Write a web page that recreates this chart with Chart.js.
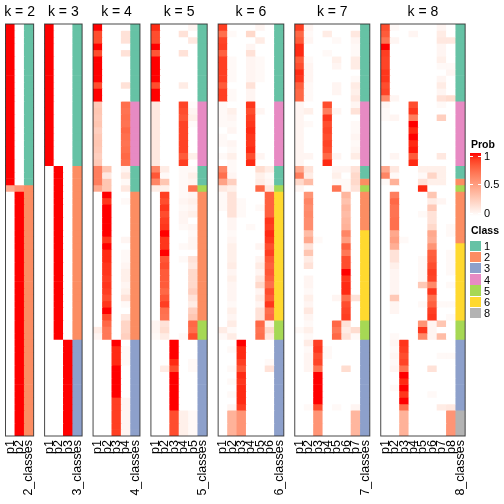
<!DOCTYPE html>
<html>
<head>
<meta charset="utf-8">
<script src="https://cdn.jsdelivr.net/npm/chart.js@4.4.1/dist/chart.umd.min.js"></script>
<style>
  body { margin: 0; width: 504px; height: 504px; overflow: hidden; position: relative; background: #fff;
         font-family: "Liberation Sans", Arial, sans-serif; color: #000; }
  canvas { position: absolute; left: 0; top: 0; }
  .title { position: absolute; top: 3px; font-size: 14px; white-space: nowrap; transform: translateX(-50%); }
  .lab { position: absolute; top: 440px; writing-mode: vertical-rl; transform: rotate(180deg);
         font-size: 12.5px; line-height: 13px; white-space: nowrap; }
  .lg-title { position: absolute; left: 471px; font-size: 10.5px; font-weight: bold; }
  .lg-text { position: absolute; left: 484px; font-size: 11px; line-height: 12px; }
  .swatch { position: absolute; left: 470px; width: 11px; }
</style>
</head>
<body>
<script>
/* ============================================================
   Données : probabilités (en %) par échantillon, pour k = 2..8
   64 lignes (échantillons), colonnes p1..pk
   ============================================================ */
const K_VALUES = [2, 3, 4, 5, 6, 7, 8];

const PROB_K2 = [
  [100,0],[100,0],[100,0],[100,0],[100,0],[100,0],[100,0],[100,0],[100,0],[100,0],[100,0],[100,0],
  [100,0],[100,0],[100,0],[100,0],[100,0],[100,0],[100,0],[100,0],[100,0],[100,0],
  [100,0],[100,0],[100,0],[45,55],
  [0,100],[0,100],[0,100],[0,100],[0,100],[0,100],[0,100],[0,100],[0,100],[0,100],[0,100],[0,100],
  [0,100],[0,100],[0,100],[0,100],[0,100],[0,100],[0,100],[0,100],[0,100],[0,100],[0,100],
  [0,100],[0,100],[0,100],[0,100],[0,100],[0,100],[0,100],[0,100],[0,100],[0,100],[0,100],[0,100],
  [0,100],[0,100],[0,100]
];
const CLASS_K2 = [
  1,1,1,1,1,1,1,1,1,1,1,1, 1,1,1,1,1,1,1,1,1,1, 1,1,1,2,
  2,2,2,2,2,2,2,2,2,2,2,2,2,2,2,2,2,2,2,2,2,2,2,
  2,2,2,2,2,2,2,2,2,2,2,2,2,2,2
];

const PROB_K3 = [
  [100,0,0],[100,0,0],[100,0,0],[100,0,0],[100,0,0],[100,0,0],[100,0,0],[100,0,0],[100,0,0],[100,0,0],[100,0,0],[100,0,0],
  [100,0,0],[100,0,0],[100,0,0],[100,0,0],[100,0,0],[100,0,0],[100,0,0],[100,0,0],[100,0,0],[100,0,0],
  [0,100,0],[0,100,0],[0,100,0],[0,100,0],
  [0,100,0],[0,100,0],[0,100,0],[0,100,0],[0,100,0],[0,100,0],[0,100,0],[0,100,0],[0,100,0],[0,100,0],[0,100,0],[0,100,0],
  [0,100,0],[0,100,0],[0,100,0],[0,100,0],[0,100,0],[0,100,0],[0,100,0],[0,100,0],[0,100,0],[0,100,0],[0,100,0],
  [0,0,100],[0,0,100],[0,0,100],[0,0,100],[0,0,100],[0,0,100],[0,0,100],[0,0,100],[0,0,100],[0,0,100],[0,0,100],
  [0,0,100],[0,0,100],[0,0,100],[0,0,100]
];
const CLASS_K3 = [
  1,1,1,1,1,1,1,1,1,1,1,1, 1,1,1,1,1,1,1,1,1,1, 2,2,2,2,
  2,2,2,2,2,2,2,2,2,2,2,2,2,2,2,2,2,2,2,2,2,2,2,
  3,3,3,3,3,3,3,3,3,3,3,3,3,3,3
];

const PROB_K4 = [
  [100,0,0,0],[85,0,0,15],[85,0,0,15],[100,0,0,0],[85,0,0,15],[100,0,0,0],
  [100,0,0,0],[100,0,0,0],[100,0,0,0],[85,0,0,15],[100,0,0,0],[100,0,0,0],
  [28,0,0,72],[30,0,0,70],[28,0,0,72],[30,0,0,70],[25,0,0,75],
  [28,0,0,72],[30,0,0,70],[28,0,0,72],[25,0,0,75],[28,0,0,72],
  [65,30,0,5],[65,12,0,12],[65,30,0,3],[45,30,0,12],
  [0,100,0,0],[0,92,0,3],[0,100,0,0],[0,100,0,0],[0,100,0,0],[0,100,0,0],[0,100,0,0],[0,92,0,5],
  [0,100,0,0],[0,95,0,3],[0,95,0,3],[0,92,0,5],[0,92,0,8],[0,90,0,8],[0,92,0,5],[0,90,0,8],
  [0,85,0,15],[0,92,0,3],[0,100,0,0],[0,85,0,12],[0,75,0,22],[10,68,0,22],[5,68,0,25],
  [0,0,100,0],[0,0,95,3],[0,0,95,3],[0,0,95,3],[0,0,100,0],[0,0,100,0],[0,0,100,0],[0,0,100,0],
  [0,0,100,0],[0,0,90,5],[0,0,90,5],[0,0,90,5],[0,0,90,5],[0,0,90,5],[0,0,90,5]
];
const CLASS_K4 = [
  1,1,1,1,1,1,1,1,1,1,1,1, 4,4,4,4,4,4,4,4,4,4, 1,1,1,1,
  2,2,2,2,2,2,2,2,2,2,2,2,2,2,2,2,2,2,2,2,2,2,2,
  3,3,3,3,3,3,3,3,3,3,3,3,3,3,3
];

const PROB_K5 = [
  [95,0,0,0,5],[85,0,0,15,0],[85,0,0,0,12],[100,0,0,0,0],[82,0,0,15,0],[100,0,0,0,0],
  [100,0,0,0,0],[100,0,0,0,0],[100,0,0,0,0],[85,0,0,10,0],[100,0,0,0,0],[100,0,0,0,0],
  [12,0,0,88,2],[12,0,0,85,5],[12,0,0,82,8],[12,0,0,88,2],[12,0,0,88,0],
  [12,0,0,88,0],[12,0,0,88,0],[12,0,0,88,0],[12,0,0,80,8],[12,0,0,90,0],
  [62,10,0,3,3],[82,3,0,3,8],[62,30,0,3,5],[10,8,0,3,70],
  [0,90,0,3,5],[0,85,0,5,8],[0,92,0,3,5],[0,85,0,5,8],[0,90,0,5,0],[0,92,0,3,5],[0,100,0,0,3],[0,92,0,0,5],
  [0,92,0,3,5],[0,100,0,0,0],[0,82,0,3,15],[0,85,0,0,12],[0,80,0,0,20],[0,80,0,0,20],[0,80,0,0,20],[0,75,0,0,25],
  [0,82,0,0,15],[0,90,0,0,10],[0,72,0,0,25],[0,70,0,0,30],[5,15,0,0,75],[5,18,0,0,72],[3,10,0,3,85],
  [0,0,100,0,0],[0,0,100,0,0],[0,0,100,0,0],[0,0,95,0,3],[0,10,85,0,3],[0,0,100,0,0],[0,0,100,0,0],[0,0,100,0,0],
  [0,0,100,0,0],[0,0,100,0,0],[0,0,100,0,0],[0,0,85,8,3],[0,0,85,8,3],[0,0,85,8,3],[0,0,85,8,3]
];
const CLASS_K5 = [
  1,1,1,1,1,1,1,1,1,1,1,1, 4,4,4,4,4,4,4,4,4,4, 1,1,1,5,
  2,2,2,2,2,2,2,2,2,2,2,2,2,2,2,2,2,2,2,2,5,5,5,
  3,3,3,3,3,3,3,3,3,3,3,3,3,3,3
];

const PROB_K6 = [
  [90,0,0,0,5,0],[72,3,0,20,0,0],[88,0,0,0,10,0],[90,0,0,5,0,0],[78,0,0,15,0,0],[90,3,0,5,3,0],
  [90,3,0,5,3,0],[90,3,0,5,3,0],[90,3,0,5,3,0],[80,0,0,15,0,0],[90,3,0,5,0,0],[90,3,0,5,0,0],
  [3,0,0,92,0,0],[3,8,0,85,5,0],[3,5,0,90,0,0],[3,3,0,92,0,0],[0,5,0,95,0,0],
  [3,0,0,92,0,0],[3,5,0,92,0,0],[0,3,0,95,0,0],[3,8,0,85,5,0],[0,3,0,95,0,0],
  [62,3,0,0,18,10],[72,5,0,0,8,3],[48,25,0,0,10,5],[12,8,0,0,75,12],
  [3,15,0,0,0,78],[3,15,3,0,0,78],[3,15,3,0,3,78],[0,15,3,0,0,78],[0,5,0,0,0,92],[0,5,0,3,0,90],[0,3,0,0,0,95],[0,5,0,0,0,92],
  [0,8,0,0,5,85],[0,8,0,0,0,90],[0,8,0,0,5,82],[0,10,0,0,10,78],[0,5,0,0,5,82],[0,8,0,0,12,78],[0,5,0,0,20,72],[0,5,0,0,5,85],
  [0,5,0,0,10,80],[0,3,0,0,5,92],[0,8,0,0,15,72],[0,5,0,0,15,75],[0,10,0,0,75,8],[10,3,0,0,70,20],[3,10,0,0,72,12],
  [0,0,100,0,0,0],[0,3,95,0,0,0],[0,0,95,0,0,0],[0,0,90,0,0,3],[0,3,82,0,0,15],[0,0,95,0,0,0],[0,3,92,0,0,0],[0,0,95,0,0,0],
  [0,3,95,0,0,0],[0,0,95,0,0,0],[0,5,90,0,0,0],[0,40,55,0,0,0],[0,40,55,0,0,0],[0,40,55,0,0,0],[0,40,55,0,0,0]
];
const CLASS_K6 = [
  1,1,1,1,1,1,1,1,1,1,1,1, 4,4,4,4,4,4,4,4,4,4, 1,1,1,5,
  6,6,6,6,6,6,6,6,6,6,6,6,6,6,6,6,6,6,6,6,5,5,5,
  3,3,3,3,3,3,3,3,3,3,3,3,3,3,3
];

const PROB_K7 = [
  [90,5,0,0,0,0,0],[75,3,0,10,0,0,12],[80,5,0,0,3,0,5],[95,0,0,0,0,0,3],[95,0,0,3,0,0,3],[80,3,0,0,8,0,10],
  [85,5,0,0,5,0,10],[95,5,0,0,0,0,0],[92,5,0,0,0,0,3],[78,3,0,0,5,0,10],[75,3,0,0,5,0,8],[75,3,0,0,0,0,12],
  [5,0,0,85,0,0,5],[5,8,0,65,5,0,15],[5,0,0,92,0,0,0],[5,3,0,85,0,0,3],[5,0,0,88,0,0,3],
  [5,0,0,85,0,0,5],[5,0,0,88,0,0,3],[5,0,0,85,0,0,5],[5,5,0,75,5,0,10],[5,0,0,95,0,0,0],
  [45,15,0,0,5,5,15],[65,10,0,0,8,0,20],[20,35,0,0,3,3,20],[5,0,0,0,70,3,15],
  [0,55,0,0,0,38,0],[0,62,0,0,0,32,0],[0,58,0,0,0,38,0],[0,60,0,0,0,35,0],[0,58,0,0,0,38,0],[0,58,0,0,0,40,0],
  [0,35,0,0,0,62,0],[0,45,3,0,0,50,0],[0,15,0,0,0,78,0],[0,30,0,0,0,68,0],[0,10,0,0,0,85,0],[0,15,0,0,0,85,0],
  [0,0,0,0,0,100,0],[0,5,0,0,0,92,0],[0,5,0,0,0,95,0],[0,3,0,0,0,95,0],[0,8,0,0,5,72,15],[0,5,0,0,0,85,0],
  [0,12,0,0,0,88,0],[0,5,0,0,0,90,0],[0,3,0,0,75,15,0],[3,8,0,0,68,10,18],[0,3,0,0,75,15,3],
  [0,10,90,0,0,0,0],[0,3,92,3,0,0,0],[0,5,85,3,0,0,0],[0,5,88,0,0,0,0],[0,5,70,0,0,18,0],[0,0,100,0,0,0,0],
  [0,0,100,0,0,0,0],[0,0,100,0,0,0,0],[0,0,100,0,0,0,0],[0,0,100,0,0,0,0],[0,3,85,0,3,0,5],
  [0,0,55,0,0,0,38],[0,0,55,0,0,0,38],[0,0,55,0,0,0,38],[0,0,55,0,0,0,38]
];
const CLASS_K7 = [
  1,1,1,1,1,1,1,1,1,1,1,1, 4,4,4,4,4,4,4,4,4,4, 1,1,2,5,
  2,2,2,2,2,2,6,6,6,6,6,6,6,6,6,6,6,6,6,6,5,5,5,
  3,3,3,3,3,3,3,3,3,3,3,3,3,3,3
];

const PROB_K8 = [
  [85,3,0,0,0,0,5,0],[80,0,0,5,0,0,10,0],[70,5,0,0,0,0,12,12],[100,0,0,0,0,0,5,0],[90,0,0,0,0,0,5,0],[88,0,0,0,0,0,8,0],
  [88,0,0,0,0,0,3,3],[92,0,0,0,0,0,0,5],[92,0,0,0,0,0,5,0],[85,0,0,0,0,0,10,0],[88,0,0,0,0,0,5,0],[60,5,0,0,0,0,15,18],
  [5,0,0,85,0,0,3,0],[3,0,0,92,0,0,0,0],[3,5,0,65,0,0,25,0],[0,0,0,100,0,0,0,0],[0,0,0,95,0,0,0,0],
  [0,0,0,100,0,0,0,0],[0,0,0,95,0,0,0,0],[0,0,0,98,0,0,0,0],[0,5,0,80,0,0,12,0],[0,0,0,95,0,0,0,0],
  [45,12,0,0,8,8,8,0],[62,3,0,0,3,22,8,0],[3,40,0,0,15,8,8,0],[0,0,0,0,95,0,0,0],
  [0,65,0,0,0,30,0,0],[0,75,0,0,0,10,5,0],[0,70,0,0,0,28,0,0],[0,70,0,0,3,15,0,0],[0,72,0,0,0,15,0,0],[0,72,0,0,0,20,0,3],
  [0,45,0,0,0,45,0,3],[0,50,3,0,0,42,0,0],[0,42,0,0,0,55,0,0],[0,15,0,0,0,78,0,3],[0,15,0,0,3,80,0,3],[0,8,0,0,3,85,0,3],
  [0,5,0,0,3,90,0,3],[0,5,0,0,3,88,0,0],[0,5,0,0,28,60,0,3],[0,5,0,0,0,92,0,0],[0,28,0,0,0,72,0,0],[0,5,0,0,3,78,3,3],
  [0,5,0,0,0,90,0,0],[0,0,0,0,0,92,0,3],[0,0,0,0,55,5,30,0],[0,0,0,0,92,5,0,0],[0,3,0,0,60,5,35,0],
  [0,5,92,0,0,0,0,0],[0,3,90,0,0,0,0,0],[0,5,85,0,0,0,3,3],[0,3,88,0,0,0,0,0],[0,5,70,0,0,15,0,0],[0,0,100,0,0,0,0,0],
  [0,0,95,0,0,0,0,0],[0,3,100,0,0,0,0,0],[0,0,92,0,0,3,0,0],[0,0,100,0,0,0,0,0],[0,0,72,0,0,0,10,12],
  [0,0,40,0,0,0,0,55],[0,0,40,0,0,0,0,55],[0,0,40,0,0,0,0,55],[0,0,40,0,0,0,0,55]
];
const CLASS_K8 = [
  1,1,1,1,1,1,1,1,1,1,1,1, 4,4,4,4,4,4,4,4,4,4, 1,1,2,5,
  2,2,2,2,2,2,2,2,6,6,6,6,6,6,6,6,6,6,6,6,5,5,5,
  3,3,3,3,3,3,3,3,3,3,3,8,8,8,8
];

const PROB_TICKS = [1, 0.5, 0];
const CLASS_LEGEND = [1, 2, 3, 4, 5, 6, 8];

/* ============================================================
   Couleurs
   ============================================================ */
const CLASS_COLORS = {
  1: '#66C2A5', 2: '#FC8D62', 3: '#8DA0CB', 4: '#E78AC3',
  5: '#A6D854', 6: '#FFD92F', 7: '#E5C494', 8: '#B3B3B3',
};

// Interpolation blanc -> rouge dans l'espace LAB (comme colorRamp2)
function labToHex(L, a, b) {
  const fy = (L + 16) / 116, fx = fy + a / 500, fz = fy - b / 200;
  const inv = t => (t > 6 / 29 ? t * t * t : 3 * (6 / 29) * (6 / 29) * (t - 4 / 29));
  const X = 0.95047 * inv(fx), Y = inv(fy), Z = 1.08883 * inv(fz);
  const lin = [
    3.2406 * X - 1.5372 * Y - 0.4986 * Z,
    -0.9689 * X + 1.8758 * Y + 0.0415 * Z,
    0.0557 * X - 0.2040 * Y + 1.0570 * Z,
  ];
  return '#' + lin.map(c => {
    c = Math.min(1, Math.max(0, c));
    const s = c <= 0.0031308 ? 12.92 * c : 1.055 * Math.pow(c, 1 / 2.4) - 0.055;
    return Math.round(s * 255).toString(16).padStart(2, '0');
  }).join('');
}
function probColor(p) {
  return labToHex(100 + (53.24 - 100) * p, 80.09 * p, 67.2 * p);
}

/* ============================================================
   Mise en page
   ============================================================ */
const COL_W = 9.38;
const GAP = 10.95;
const TOP = 24;
const BOTTOM = 436;
const N_ROWS = 64;

const PANELS = [
  [PROB_K2, CLASS_K2], [PROB_K3, CLASS_K3], [PROB_K4, CLASS_K4], [PROB_K5, CLASS_K5],
  [PROB_K6, CLASS_K6], [PROB_K7, CLASS_K7], [PROB_K8, CLASS_K8],
];

// Cadre autour de chaque heatmap
const framePlugin = {
  id: 'frame',
  afterDraw(chart) {
    const { ctx, chartArea: a } = chart;
    ctx.save();
    ctx.strokeStyle = 'rgba(40,40,40,0.85)';
    ctx.lineWidth = 1;
    ctx.strokeRect(a.left, a.top, a.right - a.left, a.bottom - a.top);
    ctx.restore();
  },
};

function addDiv(cls, text, style) {
  const d = document.createElement('div');
  d.className = cls;
  d.textContent = text;
  Object.assign(d.style, style);
  document.body.appendChild(d);
  return d;
}

let left = 5.5;
K_VALUES.forEach((k, idx) => {
  const [probs, classes] = PANELS[idx];
  const width = (k + 1) * COL_W;

  const labels = [];
  for (let j = 1; j <= k; j++) labels.push('p' + j);
  labels.push(k + '_classes');

  const datasets = probs.map((row, i) => ({
    label: 'row ' + (i + 1),
    data: labels.map(() => 1),
    backgroundColor: row.map(v => probColor(v / 100)).concat(CLASS_COLORS[classes[i]]),
    borderWidth: 0,
    barPercentage: 1,
    categoryPercentage: 1,
  }));

  const canvas = document.createElement('canvas');
  canvas.width = 504;
  canvas.height = 504;
  document.body.appendChild(canvas);

  new Chart(canvas, {
    type: 'bar',
    data: { labels, datasets },
    options: {
      responsive: false,
      animation: false,
      events: [],
      layout: { padding: { left: left, right: 504 - left - width, top: TOP, bottom: 504 - BOTTOM } },
      plugins: { legend: { display: false }, tooltip: { enabled: false } },
      scales: {
        x: { display: false, stacked: true },
        y: { display: false, stacked: true, min: 0, max: N_ROWS, reverse: true },
      },
    },
    plugins: [framePlugin],
  });

  // Titre du panneau
  addDiv('title', 'k = ' + k, { left: (left + width / 2) + 'px' });

  // Étiquettes des colonnes (verticales)
  labels.forEach((lab, j) => {
    const cx = left + (j + 0.5) * COL_W;
    addDiv('lab', lab, { left: (cx - 6.5) + 'px' });
  });

  left += width + GAP;
});

/* ============================================================
   Légendes
   ============================================================ */
addDiv('lg-title', 'Prob', { top: '138px' });
const stops = [];
for (let i = 0; i <= 10; i++) stops.push(probColor(1 - i / 10) + ' ' + (i * 10) + '%');
const bar = addDiv('swatch', '', {
  top: '153px', height: '63px',
  background: 'linear-gradient(to bottom, ' + stops.join(', ') + ')',
});
bar.style.width = '11px';
// petits traits blancs aux graduations
PROB_TICKS.forEach(t => {
  const y = 213 - t * 56.3;
  addDiv('swatch', '', { top: (y - 0.5) + 'px', height: '1px', width: '3px', background: '#fff' });
  addDiv('swatch', '', { top: (y - 0.5) + 'px', height: '1px', width: '3px', left: '478px', background: '#fff' });
  addDiv('lg-text', String(t), { top: (y - 6.5) + 'px' });
});

addDiv('lg-title', 'Class', { top: '224px' });
CLASS_LEGEND.forEach((c, i) => {
  const y = 240.5 + i * 11.2;
  addDiv('swatch', '', { top: y + 'px', height: '10.5px', background: CLASS_COLORS[c] });
  addDiv('lg-text', String(c), { top: (y - 0.5) + 'px' });
});
</script>
</body>
</html>
